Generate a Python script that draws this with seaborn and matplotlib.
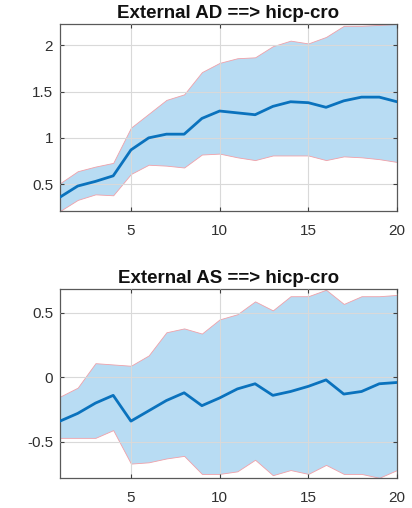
import numpy as np
import pandas as pd
import matplotlib
matplotlib.use("Agg")
import matplotlib.pyplot as plt
import seaborn as sns

horizon = list(range(1, 21))

ad_median = [0.36, 0.48, 0.53, 0.59, 0.87, 1.00, 1.04, 1.04, 1.21, 1.29,
             1.27, 1.25, 1.34, 1.39, 1.38, 1.33, 1.40, 1.44, 1.44, 1.39]
ad_upper = [0.51, 0.64, 0.69, 0.73, 1.11, 1.26, 1.41, 1.47, 1.71, 1.81,
            1.86, 1.87, 1.99, 2.05, 2.02, 2.09, 2.21, 2.21, 2.22, 2.23]
ad_lower = [0.21, 0.33, 0.39, 0.38, 0.61, 0.71, 0.70, 0.68, 0.82, 0.83,
            0.79, 0.76, 0.81, 0.81, 0.81, 0.76, 0.80, 0.79, 0.77, 0.74]

as_median = [-0.34, -0.28, -0.20, -0.14, -0.34, -0.26, -0.18, -0.12, -0.22, -0.16,
             -0.09, -0.05, -0.14, -0.11, -0.07, -0.02, -0.13, -0.11, -0.05, -0.04]
as_upper = [-0.15, -0.08, 0.11, 0.10, 0.09, 0.17, 0.35, 0.38, 0.34, 0.45,
            0.49, 0.59, 0.52, 0.63, 0.63, 0.68, 0.57, 0.63, 0.63, 0.64]
as_lower = [-0.47, -0.47, -0.47, -0.41, -0.67, -0.66, -0.63, -0.61, -0.75, -0.75,
            -0.73, -0.64, -0.76, -0.72, -0.75, -0.68, -0.75, -0.75, -0.78, -0.72]

titles = ["External AD ==> hicp-cro", "External AS ==> hicp-cro"]
xticks = [5, 10, 15, 20]
yticks_ad = [0.5, 1, 1.5, 2]
yticks_as = [-0.5, 0, 0.5]
yticklabels_ad = ["0.5", "1", "1.5", "2"]
yticklabels_as = ["-0.5", "0", "0.5"]

sns.set_theme(style="white")
plt.rcParams["font.family"] = ["Liberation Sans", "DejaVu Sans"]

fig = plt.figure(figsize=(4.12, 5.08), dpi=100)
ax1 = fig.add_axes([0.1456, 0.5846, 0.818, 0.3682])
ax2 = fig.add_axes([0.1456, 0.0590, 0.818, 0.3721])

fill_color = "#b8dcf3"
line_color = "#0a72bd"

panels = [
    (ax1, ad_median, ad_upper, ad_lower, yticks_ad, yticklabels_ad, (0.21, 2.23)),
    (ax2, as_median, as_upper, as_lower, yticks_as, yticklabels_as, (-0.782, 0.686)),
]

for i, (ax, med, up, lo, yt, ytl, ylim) in enumerate(panels):
    df = pd.DataFrame({"h": horizon, "med": med, "up": up, "lo": lo})
    ax.fill_between(df["h"], df["lo"], df["up"], facecolor=fill_color,
                    edgecolor="#f0a0a8", linewidth=0.6, zorder=1)
    sns.lineplot(data=df, x="h", y="med", ax=ax, color=line_color,
                 linewidth=2.0, zorder=3)
    ax.set_xlim(1, 20)
    ax.set_ylim(*ylim)
    ax.set_xticks(xticks)
    ax.set_xticklabels([str(t) for t in xticks])
    ax.set_yticks(yt)
    ax.set_yticklabels(ytl)
    ax.set_xlabel("")
    ax.set_ylabel("")
    ax.grid(True, color="#d9d9d9", linewidth=0.8, zorder=2)
    ax.set_axisbelow(False)
    for s in ax.spines.values():
        s.set_visible(True)
        s.set_color("#595959")
        s.set_linewidth(0.9)
    ax.tick_params(axis="both", which="both", direction="in", length=3,
                   width=0.8, color="#404040", labelsize=11,
                   labelcolor="#303030", top=True, right=True,
                   bottom=True, left=True)
    ax.tick_params(axis="x", pad=9)
    ax.tick_params(axis="y", pad=5)
    ax.set_title(titles[i], fontsize=13.5, fontweight="bold", pad=4,
                 color="#111111")

fig.savefig("out.png", dpi=100)
